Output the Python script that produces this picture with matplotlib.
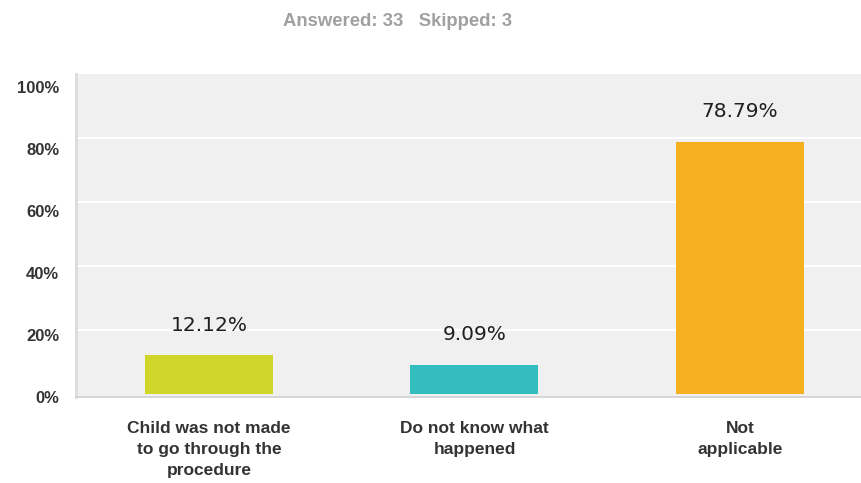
import numpy as np
import matplotlib
matplotlib.use("Agg")
import matplotlib.pyplot as plt

categories = ["Child was not made\nto go through the\nprocedure",
              "Do not know what\nhappened",
              "Not\napplicable"]
values = [12.12, 9.09, 78.79]
value_labels = ["12.12%", "9.09%", "78.79%"]
tick_labels = ["0%", "20%", "40%", "60%", "80%", "100%"]
grid_vals = [20, 40, 60, 80]
colors = ["#D0D52A", "#33BDBF", "#F5AF20"]
header = "Answered: 33   Skipped: 3"

W, H = 862, 483
fig = plt.figure(figsize=(W / 100, H / 100), dpi=100)
# plot area: left 76px, right edge, top 74px, bottom 397px
ax = fig.add_axes([76 / W, 1 - 397 / H, (W - 76) / W, (397 - 74) / H])
ax.set_facecolor("#F0F0F0")
ax.set_xlim(-0.501, 2.46)
ax.set_ylim(0, 100)

for g in grid_vals:
    ax.axhline(g, color="white", lw=1.6, zorder=1)

x = np.arange(len(values))
ax.bar(x, values, width=0.482, color=colors, zorder=2)
for xi, v, lab in zip(x, values, value_labels):
    ax.annotate(lab, (xi, v), xytext=(0, 21.6), textcoords="offset points",
                ha="center", va="center", fontsize=14.5, color="#1E1E1E",
                family="DejaVu Sans")

for s in ["top", "right"]:
    ax.spines[s].set_visible(False)
ax.spines["left"].set_color("#DCDCDC")
ax.spines["left"].set_linewidth(2)
ax.spines["bottom"].set_color("#D0D0D0")
ax.spines["bottom"].set_linewidth(1.2)

ax.set_xticks(x)
ax.set_xticklabels(categories, fontsize=12.5, fontweight="bold", color="#333333",
                   family="Liberation Sans", linespacing=1.52)
ax.tick_params(axis="x", length=0, pad=17)

# y labels sit a little below their gridlines, as in the source
ax.set_yticks(np.linspace(-1, 96, 6))
ax.set_yticklabels(tick_labels, fontsize=12, fontweight="bold", color="#333333",
                   family="Liberation Sans")
ax.tick_params(axis="y", length=0, pad=12)

fig.text(398 / W, 1 - 22 / H, header, ha="center", va="center", fontsize=13.3,
         fontweight="bold", color="#A0A0A0", family="Liberation Sans")

fig.savefig("out.png", dpi=100)
